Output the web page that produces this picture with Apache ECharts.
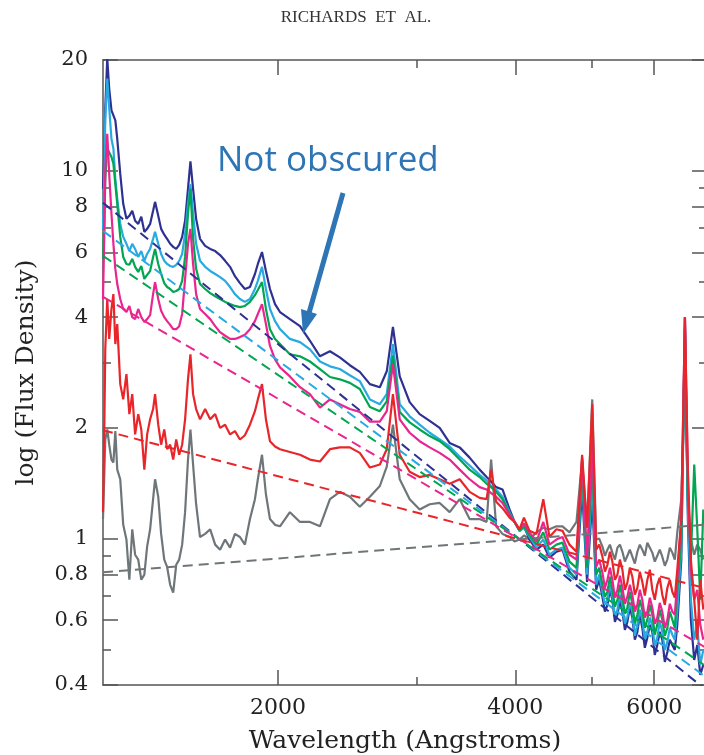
<!DOCTYPE html>
<html><head><meta charset="utf-8">
<script src="https://cdn.jsdelivr.net/npm/echarts@6/dist/echarts.min.js"></script>
<style>html,body{margin:0;padding:0;background:#fff}#c{width:704px;height:755px}</style>
</head><body><div id="c"></div>
<script>
// ---- data (wavelength in Angstroms, flux density, normalised) ----
const wavelength = [
1200,1205,1208,1215,1222,1230,1237,1244,1251,1262,
1273,1285,1296,1307,1318,1330,1342,1354,1365,1377,
1389,1397,1410,1422,1435,1447,1460,1473,1486,1499,
1512,1525,1538,1549,1561,1575,1593,
1617,1641,1665,1689,1714,1739,1764,1790,1816,1843,
1870,1886,1909,1931,1954,1983,2012,2071,2133,2196,
2261,2328,2396,2467,2540,2616,2693,2748,2798,2854,
2938,3025,3115,3207,3302,3400,3500,3604,
3678,3727,3782,3853,3933,3991,4049,4102,4169,4255,
4340,4419,4510,4590,4685,4782,4861,4932,5007,5065,
5110,5158,5196,5234,5272,5310,5350,5389,5428,5468,
5508,5548,5588,5629,5670,5712,5753,5795,5838,5881,
5924,5967,6010,6054,6098,6143,6189,6235,6280,6326,
6372,6418,6494,6563,6620,6678,6744,6804,6864,6925];

const fluxNavy = [
8.93,11.5,14.8,20.2,16.7,14.6,14.5,13.7,12.2,9.80,
8.13,7.40,7.54,7.78,7.31,7.17,7.50,6.82,6.95,7.17,
7.78,8.23,7.54,6.95,6.70,6.53,6.33,6.21,6.13,6.29,
6.61,7.31,8.93,10.6,8.93,7.40,6.53,
6.25,6.13,6.05,5.90,5.69,5.48,5.17,4.95,4.77,4.83,
5.24,5.58,6.01,5.34,4.77,4.34,4.13,3.95,3.78,3.45,
3.13,3.23,3.11,2.96,2.84,2.63,2.58,2.85,3.76,2.76,
2.35,2.18,2.09,2.00,1.82,1.77,1.66,1.54,
1.47,1.43,1.38,1.36,1.20,1.11,1.05,1.08,0.994,0.933,
0.963,0.888,0.921,0.933,0.813,0.773,1.36,0.763,1.28,0.726,
0.773,0.695,0.633,0.661,0.726,0.682,0.594,0.621,0.682,0.633,
0.565,0.594,0.649,0.610,0.531,0.558,0.621,0.572,0.505,0.538,
0.583,0.558,0.483,0.514,0.558,0.531,0.462,0.492,0.531,0.514,
0.498,0.583,0.877,4.00,1.13,0.602,0.468,0.514,0.426,0.454];

const fluxCyan = [
6.95,10.1,13.9,17.8,14.8,12.2,11.5,9.50,8.39,7.17,
6.61,6.33,6.05,6.33,6.13,5.83,6.05,5.69,5.94,6.13,
6.53,6.82,6.33,5.94,5.69,5.58,5.51,5.48,5.55,5.69,
5.94,6.74,8.13,9.20,7.64,6.33,5.69,
5.48,5.34,5.24,5.14,5.02,4.83,4.62,4.48,4.40,4.48,
4.77,5.02,5.48,4.77,4.21,3.90,3.71,3.49,3.42,3.27,
3.03,2.94,2.89,2.78,2.68,2.39,2.32,2.47,3.38,2.32,
2.15,2.04,1.94,1.86,1.78,1.67,1.58,1.49,
1.44,1.39,1.36,1.30,1.18,1.11,1.05,1.07,1.01,0.945,
0.994,0.904,0.933,0.945,0.833,0.798,1.49,0.798,1.45,0.749,
0.798,0.717,0.661,0.682,0.749,0.695,0.614,0.641,0.704,0.657,
0.587,0.614,0.669,0.633,0.544,0.583,0.641,0.602,0.531,0.558,
0.610,0.579,0.511,0.538,0.594,0.558,0.498,0.524,0.572,0.548,
0.531,0.633,0.933,3.71,1.20,0.682,0.531,0.583,0.454,0.498];

const fluxGreen = [
5.76,7.40,9.50,11.5,11.5,10.9,10.45,9.20,8.13,6.61,
5.83,5.58,5.55,5.76,5.48,5.31,5.51,5.08,5.21,5.34,
5.83,6.13,5.58,5.24,4.95,4.83,4.77,4.68,4.71,4.77,
5.02,5.83,7.64,8.93,6.53,5.41,4.92,
4.77,4.65,4.56,4.48,4.40,4.34,4.29,4.26,4.29,4.40,
4.59,4.74,4.98,4.21,3.71,3.49,3.38,3.17,3.13,3.03,
2.89,2.75,2.71,2.65,2.55,2.28,2.22,2.36,3.15,2.21,
2.07,1.98,1.90,1.84,1.75,1.64,1.54,1.47,
1.41,1.38,1.34,1.28,1.17,1.11,1.05,1.08,1.02,0.963,
1.04,0.933,0.963,0.975,0.866,0.833,1.56,0.833,1.64,0.798,
0.833,0.749,0.695,0.717,0.788,0.726,0.653,0.682,0.749,0.691,
0.625,0.649,0.717,0.665,0.587,0.621,0.682,0.641,0.572,0.602,
0.661,0.621,0.548,0.583,0.641,0.602,0.544,0.572,0.633,0.602,
0.572,0.726,0.994,3.71,1.28,0.877,1.59,1.06,0.682,1.20];

const fluxMagenta = [
4.48,6.95,10.1,12.6,9.80,7.64,6.33,5.41,4.92,4.48,
4.21,4.13,4.29,4.00,3.95,4.21,4.00,3.88,3.95,4.05,
4.62,4.98,4.48,4.16,4.00,3.90,3.81,3.71,3.71,3.78,
4.08,5.08,6.33,6.95,5.58,4.62,4.21,
4.08,3.95,3.78,3.64,3.56,3.49,3.49,3.53,3.58,3.71,
3.90,4.08,4.34,3.83,3.34,3.07,2.92,2.76,2.58,2.47,
2.27,2.39,2.32,2.25,2.21,2.08,2.08,2.22,2.98,2.11,
1.94,1.84,1.77,1.71,1.64,1.54,1.45,1.38,
1.36,1.33,1.30,1.25,1.16,1.11,1.06,1.10,1.04,0.982,
1.11,0.963,0.994,1.01,0.904,0.877,1.66,0.877,1.86,0.838,
0.877,0.808,0.735,0.773,0.833,0.773,0.691,0.726,0.793,0.735,
0.665,0.695,0.749,0.704,0.633,0.661,0.726,0.682,0.610,0.633,
0.691,0.649,0.587,0.610,0.669,0.633,0.572,0.602,0.665,0.633,
0.621,0.773,1.13,4.00,1.45,0.823,0.682,0.726,0.583,0.531];

const fluxRed = [
1.18,2.11,3.27,4.48,3.49,4.21,4.62,3.38,3.83,2.63,
2.39,2.80,2.18,2.47,1.92,2.18,1.98,1.54,1.92,2.11,
2.25,2.47,2.04,1.80,1.98,1.75,1.80,1.64,1.86,1.69,
1.80,2.11,2.71,3.17,2.47,2.25,2.11,
2.25,2.11,2.18,2.00,2.04,1.92,1.96,1.86,1.91,2.04,
2.22,2.39,2.63,2.11,1.84,1.78,1.75,1.72,1.69,1.64,
1.62,1.75,1.77,1.77,1.71,1.56,1.59,1.75,2.47,1.69,
1.52,1.47,1.49,1.45,1.41,1.45,1.34,1.29,
1.28,1.54,1.26,1.21,1.14,1.11,1.06,1.14,1.05,1.03,
1.28,1.01,1.06,1.05,0.963,0.921,1.69,1.07,2.32,0.933,
0.963,0.893,0.813,0.849,0.921,0.866,0.773,0.798,0.877,0.823,
0.726,0.759,0.833,0.788,0.704,0.735,0.813,0.763,0.700,0.773,
0.823,0.726,0.682,0.749,0.783,0.704,0.661,0.735,0.773,0.717,
0.691,0.823,1.13,4.00,1.54,0.877,0.682,0.531,0.773,0.641];

const fluxGray = [
1.13,1.54,1.86,1.98,1.80,1.64,1.61,1.96,1.54,1.45,
1.09,0.994,0.773,1.06,0.904,0.877,0.773,0.798,0.951,1.06,
1.28,1.45,1.30,1.03,0.877,0.838,0.749,0.713,0.849,0.877,
0.963,1.18,1.64,1.98,1.59,1.24,1.01,
1.03,1.06,0.963,0.933,0.994,0.945,1.03,1.01,0.963,1.13,
1.28,1.45,1.69,1.32,1.13,1.09,1.08,1.18,1.11,1.11,
1.08,1.28,1.34,1.30,1.22,1.30,1.39,1.57,2.04,1.45,
1.28,1.20,1.24,1.25,1.18,1.28,1.13,1.13,
1.11,1.64,1.08,1.03,1.01,0.982,0.994,1.02,0.994,1.04,
1.07,1.06,1.08,1.08,1.04,1.11,1.64,1.08,2.39,0.994,
1.00,0.951,0.898,0.933,0.963,0.916,0.877,0.945,0.963,0.921,
0.866,0.898,0.933,0.893,0.855,0.921,0.963,0.933,0.898,0.975,
0.945,0.916,0.866,0.898,0.933,0.893,0.844,0.877,0.945,0.916,
0.877,1.04,1.28,2.71,1.28,0.994,0.904,0.963,0.933,0.877];

// power-law continuum fits (dashed): values at the two ends
const dashWavelength = [1200, 7000];
const dashNavy    = [8.18, 0.386];
const dashCyan    = [6.86, 0.418];
const dashGreen   = [5.87, 0.448];
const dashMagenta = [4.54, 0.503];
const dashRed     = [1.97, 0.731];
const dashGray    = [0.81, 1.092];

const xMajorTicks = [2000, 4000, 6000];
const xMinorTicks = [3000, 5000];
const yMajorTicks = [0.4, 0.6, 0.8, 1, 2, 4, 6, 8, 10, 20];
const yMinorTicks = [0.5, 0.7, 0.9, 3, 5, 7, 9];

// ---- chart ----
const colors = {navy:'#2e3192', cyan:'#27aae1', green:'#00a651', magenta:'#e9268f', red:'#e8262a', gray:'#6f767a'};
const frame = '#555';
const serif = 'DejaVu Serif';

function pairs(xs, ys){ const n=Math.min(xs.length, ys.length); const out=[]; for(let i=0;i<n;i++) out.push([xs[i], ys[i]]); return out; }

function xAxisDef(position, ticks, len, showLine, showLabel){
  return {
    type:'log', logBase:10, min:1200, max:7000, position:position,
    splitLine:{show:false}, minorTick:{show:false},
    axisLine:{show:showLine, lineStyle:{color:frame, width:1.5}},
    axisTick:{show:true, inside:true, length:len, customValues:ticks, lineStyle:{color:frame, width:1.5}},
    axisLabel:{show:showLabel, customValues:ticks, margin:12, color:'#222', fontFamily:serif, fontSize:22,
      formatter:function(v){ return String(Math.round(v)); }}
  };
}
function yAxisDef(position, ticks, len, showLine, showLabel){
  return {
    type:'log', logBase:10, min:0.4, max:20, position:position,
    splitLine:{show:false}, minorTick:{show:false},
    axisLine:{show:showLine, lineStyle:{color:frame, width:1.5}},
    axisTick:{show:true, inside:true, length:len, customValues:ticks, lineStyle:{color:frame, width:1.5}},
    axisLabel:{show:showLabel, customValues:ticks, margin:15, color:'#222', fontFamily:serif, fontSize:21,
      formatter:function(v){ return String(parseFloat((+v).toPrecision(2))); }}
  };
}

const xMain = xAxisDef('bottom', xMajorTicks, 15, true, true);
xMain.name = 'Wavelength (Angstroms)';
xMain.nameLocation = 'middle';
xMain.nameGap = 44;
xMain.nameTextStyle = {fontFamily:serif, fontSize:25, color:'#222'};

const yMain = yAxisDef('left', yMajorTicks, 15, true, true);
yMain.name = 'log (Flux Density)';
yMain.nameLocation = 'middle';
yMain.nameGap = 64;
yMain.nameTextStyle = {fontFamily:serif, fontSize:25, color:'#222'};

function spec(name, data, color){
  return {name:name, type:'line', data:pairs(wavelength, data), showSymbol:false, symbol:'none',
    lineStyle:{color:color, width:2.2}, itemStyle:{color:color}, z:2, clip:true, animation:false};
}
function dash(name, data, color){
  return {name:name, type:'line', data:pairs(dashWavelength, data), showSymbol:false, symbol:'none',
    lineStyle:{color:color, width:2, type:[10,6]}, itemStyle:{color:color}, z:3, clip:true, animation:false};
}

const option = {
  animation:false,
  backgroundColor:'#fff',
  grid:{left:103, top:60, width:604, height:625, containLabel:false, outerBoundsMode:'none'},
  xAxis:[
    xMain,
    xAxisDef('bottom', xMinorTicks, 8, false, false),
    xAxisDef('top', xMajorTicks, 15, true, false),
    xAxisDef('top', xMinorTicks, 8, false, false)
  ],
  yAxis:[
    yMain,
    yAxisDef('left', yMinorTicks, 8, false, false),
    yAxisDef('right', yMajorTicks, 15, true, false),
    yAxisDef('right', yMinorTicks, 8, false, false)
  ],
  series:[
    spec('gray', fluxGray, colors.gray),
    spec('navy', fluxNavy, colors.navy),
    spec('cyan', fluxCyan, colors.cyan),
    spec('green', fluxGreen, colors.green),
    spec('magenta', fluxMagenta, colors.magenta),
    spec('red', fluxRed, colors.red),
    dash('navy fit', dashNavy, colors.navy),
    dash('cyan fit', dashCyan, colors.cyan),
    dash('green fit', dashGreen, colors.green),
    dash('magenta fit', dashMagenta, colors.magenta),
    dash('red fit', dashRed, colors.red),
    dash('gray fit', dashGray, colors.gray)
  ],
  graphic:[
    {type:'text', style:{x:356, y:18, text:'RICHARDS  ET  AL.', align:'center', verticalAlign:'middle',
      font:'17px "Liberation Serif", serif', fill:'#333'}, z:10},
    {type:'text', style:{x:217, y:161, text:'Not obscured', align:'left', verticalAlign:'middle',
      font:'35px "Open Sans", sans-serif', fill:'#2e75b6'}, z:10},
    {type:'line', shape:{x1:343, y1:193, x2:309, y2:313}, style:{stroke:'#2e75b6', lineWidth:5}, z:10},
    {type:'polygon', shape:{points:[[303,334],[317,314],[301,309]]}, style:{fill:'#2e75b6'}, z:10}
  ]
};
const chart = echarts.init(document.getElementById('c'));
chart.setOption(option);
</script>
</body></html>
